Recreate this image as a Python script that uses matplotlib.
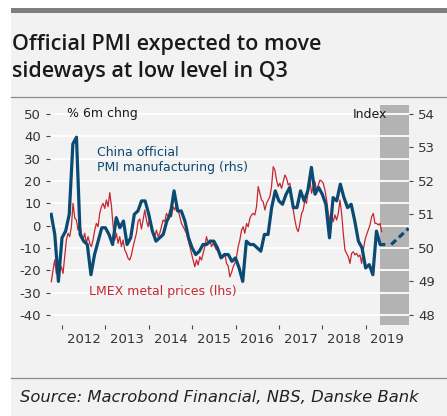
import numpy as np
import matplotlib
matplotlib.use('Agg')
import matplotlib.pyplot as plt
from matplotlib.patches import Rectangle
from matplotlib.lines import Line2D

plt.rcParams['font.family'] = ['DejaVu Sans']
plt.rcParams['axes.unicode_minus'] = False
plt.rcParams['lines.scale_dashes'] = False

# ---------------- data ----------------
# China official PMI manufacturing (rhs), monthly from Sep 2011
pmi_start_year = 2011
pmi_start_month = 9
pmi_values = [
    51.0, 50.4, 49.0, 50.3,
    50.5, 51.0, 53.1, 53.3, 50.4, 50.2, 50.1, 49.2, 49.8, 50.2, 50.6, 50.6,
    50.4, 50.1, 50.9, 50.6, 50.8, 50.1, 50.3, 51.0, 51.1, 51.4, 51.4, 51.0,
    50.5, 50.2, 50.3, 50.4, 50.8, 51.0, 51.7, 51.1, 51.1, 50.8, 50.3, 50.0,
    49.8, 49.9, 50.1, 50.1, 50.2, 50.2, 50.0, 49.7, 49.8, 49.8, 49.6, 49.7,
    49.4, 49.0, 50.2, 50.1, 50.1, 50.0, 49.9, 50.4, 50.4, 51.2, 51.7, 51.4,
    51.3, 51.6, 51.8, 51.2, 51.2, 51.7, 51.4, 51.7, 52.4, 51.6, 51.8, 51.6,
    51.3, 50.3, 51.5, 51.4, 51.9, 51.5, 51.2, 51.3, 50.8, 50.2, 50.0, 49.4,
    49.5, 49.2, 50.5, 50.1, 50.1,
]
# PMI forecast (dashed)
fc_dates = [2019.59, 2019.99]
fc_values = [50.1, 50.58]

# LMEX metal prices, % 6m change (lhs), bi-weekly from early Oct 2011
lmex_start = 2011.754
lmex_per_year = 26
lmex_values = [
    -25.1, -19.9, -15.4, -21.4, -16.9, -20.6, -18.4, -21.4, -13.9, -6.4,
    -3.4, -4.9, -0.5, 10.0, 3.5, 2.5, -2.0, 1.0, -3.4, -6.4,
    -3.4, -7.9, -4.9, -7.9, -9.4, -6.4, -2.0, 1.0, -0.5, 5.5,
    8.5, 10.0, 7.7, 11.5, 8.5, 14.8, 9.0, 0.0, -6.4, -3.4,
    -7.9, -4.9, -9.4, -6.4, -10.9, -12.4, -14.6, -15.4, -13.1, -9.4,
    -6.4, -3.4, 2.0, 3.0, -1.5, 2.5, 7.0, 2.5, -0.5, 4.0,
    -0.5, -3.4, -4.9, -2.0, -4.9, -3.4, -0.5, 2.5, 1.8, 5.5,
    4.0, 7.0, 4.0, 8.5, 7.0, 10.0, 7.0, 4.0, 1.0, -0.5,
    -2.0, -3.4, -6.4, -9.4, -12.4, -15.4, -18.4, -15.4, -17.6, -13.9,
    -15.4, -12.4, -9.4, -4.9, -7.9, -6.4, -9.4, -7.9, -9.4, -10.9,
    -10.2, -12.4, -13.9, -13.1, -12.4, -16.9, -18.0, -22.9, -21.0, -18.4,
    -16.9, -13.9, -9.4, -6.4, -2.0, -0.5, -3.4, 1.0, -0.5, 3.3,
    4.8, 5.5, 4.8, 8.5, 17.5, 14.5, 11.5, 10.7, 7.0, 10.0,
    11.5, 13.0, 17.5, 26.4, 24.9, 20.4, 17.5, 19.0, 16.7, 19.7,
    22.7, 21.2, 18.2, 19.0, 13.0, 7.0, 2.5, -1.2, -2.7, 1.0,
    5.5, 7.0, 11.5, 10.0, 16.0, 20.4, 14.5, 17.5, 19.7, 16.0,
    18.0, 20.4, 20.0, 19.0, 16.0, 11.5, 5.5, 2.5, 4.0, 1.8,
    4.8, 2.5, 5.5, 11.5, 5.5, -3.4, -10.9, -12.4, -13.9, -16.9,
    -12.4, -11.7, -13.1, -12.4, -13.9, -13.1, -16.9, -10.9, -6.4, -4.0,
    -1.9, 0.3, 4.0, 5.5, 1.0, 1.0, 0.3, 1.0, -2.7,
]

forecast_span = (2019.32, 2020.0)
years = list(range(2012, 2020))
left_ticks = list(range(-40, 51, 10))
right_ticks = list(range(48, 55))

title_lines = ["Official PMI expected to move", "sideways at low level in Q3"]
source_text = "Source: Macrobond Financial, NBS, Danske Bank"

BLUE = '#0b4a72'
RED = '#c62631'
BG = '#f2f2f2'

pmi_dates = pmi_start_year + (pmi_start_month + np.arange(len(pmi_values))) / 12.0
lmex_dates = lmex_start + np.arange(len(lmex_values)) / lmex_per_year

# ---------------- figure ----------------
W, H = 447, 416
fig = plt.figure(figsize=(W / 100, H / 100), dpi=100)
fig.patch.set_facecolor('white')

fig.patches.append(Rectangle((11 / W, 0), 1 - 11 / W, 1 - 13 / H, transform=fig.transFigure,
                             facecolor=BG, edgecolor='none', zorder=-5))
fig.patches.append(Rectangle((11 / W, 1 - 13 / H), 1 - 11 / W, 5 / H, transform=fig.transFigure,
                             facecolor='#7f7f7f', edgecolor='none', zorder=-5))
fig.add_artist(Line2D([11 / W, 1], [1 - 97 / H] * 2, color='#8c8c8c', lw=0.9))
fig.add_artist(Line2D([11 / W, 1], [1 - 378 / H] * 2, color='#8c8c8c', lw=0.9))

title_font = dict(family=['Open Sans', 'DejaVu Sans'], weight='semibold', fontsize=15.5,
                  va='baseline', color='#1a1a1a')
fig.text(12 / W, 1 - 50 / H, title_lines[0], **title_font)
fig.text(12 / W, 1 - 77.5 / H, title_lines[1], **title_font)
fig.text(20 / W, 1 - 401.5 / H, source_text, fontsize=11.8, style='italic', va='baseline', color='#222222')

ax = fig.add_axes([50 / W, 1 - 325 / H, 359 / W, 220 / H])
ax.set_facecolor('none')
for s in ax.spines.values():
    s.set_visible(False)
ax.set_xlim(2011.723, 2020.0)
ax.set_ylim(-44.48, 54.03)
ax.axvspan(*forecast_span, color='#b3b3b3', lw=0, zorder=0.2)
ax.set_axisbelow(True)
ax.set_yticks(left_ticks)
ax.set_yticklabels([str(v) for v in left_ticks])
ax.yaxis.grid(True, color='white', lw=1.3)
ax.tick_params(axis='y', direction='out', length=3, width=0.8, color='#444444',
               labelsize=9.5, labelcolor='#333333', pad=3.5)

ax.set_xticks(years)
ax.set_xticklabels([])
ax.set_xticks([y + 0.5 for y in years], minor=True)
ax.set_xticklabels([str(y) for y in years], minor=True)
ax.tick_params(axis='x', which='major', direction='out', length=3, width=0.8, color='#444444')
ax.tick_params(axis='x', which='minor', length=0, labelsize=9.5, labelcolor='#333333', pad=5.5)

ax.plot(lmex_dates, lmex_values, color=RED, lw=0.9, zorder=2)

ax2 = ax.twinx()
for s in ax2.spines.values():
    s.set_visible(False)
ax2.set_ylim(47.70, 54.26)
ax2.set_yticks(right_ticks)
ax2.set_yticklabels([str(v) for v in right_ticks])
ax2.tick_params(axis='y', direction='out', length=3, width=0.8, color='#444444',
                labelsize=9.5, labelcolor='#333333', pad=3.5)
ax2.plot(pmi_dates, pmi_values, color=BLUE, lw=2.3, solid_joinstyle='round', zorder=3)
ax2.plot(fc_dates, fc_values, color=BLUE, lw=2.3, dashes=(4.8, 2.7), zorder=3)

fig.text(67 / W, 1 - 114 / H, "% 6m chng", fontsize=9, va='center', color='#1a1a1a')
fig.text(387 / W, 1 - 114 / H, "Index", fontsize=9, va='center', ha='right', color='#1a1a1a')
fig.text(97 / W, 1 - 152 / H, "China official", fontsize=9, va='center', color=BLUE)
fig.text(97 / W, 1 - 167 / H, "PMI manufacturing (rhs)", fontsize=9, va='center', color=BLUE)
fig.text(89 / W, 1 - 291 / H, "LMEX metal prices (lhs)", fontsize=9, va='center', color=RED)

fig.savefig('out.png', dpi=100)
